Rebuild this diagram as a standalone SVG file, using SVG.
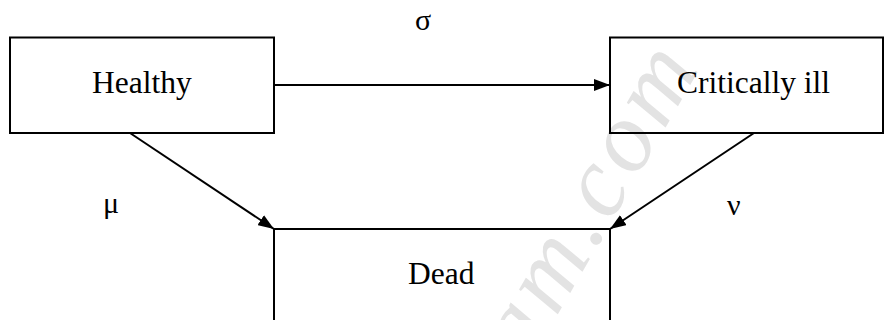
<svg xmlns="http://www.w3.org/2000/svg" width="885" height="320" viewBox="0 0 885 320">
  <style>
    .box { fill: none; stroke: #000000; stroke-width: 2; }
    .label { font-family: "Liberation Serif", "Times New Roman", serif; font-size: 31.5px; fill: #000000; }
    .rate { font-family: "Liberation Serif", "Times New Roman", serif; font-size: 30px; fill: #000000; }
    .edge { stroke: #000000; stroke-width: 2; fill: none; marker-end: url(#arrow); }
    .mark { font-family: "Liberation Serif", "Times New Roman", serif; font-style: italic; font-size: 100px; letter-spacing: 6px; fill: #e3e3e3; }
  </style>
  <defs>
    <marker id="arrow" viewBox="0 0 16 12" refX="16" refY="6" markerWidth="16" markerHeight="12" markerUnits="userSpaceOnUse" orient="auto">
      <path d="M0,0 L16,6 L0,12 Z" fill="#000000"/>
    </marker>
  </defs>

  <rect width="885" height="320" fill="#ffffff"/>

  <!-- faint diagonal watermark lettering, behind the outlines -->
  <g id="watermark">
    <text class="mark" transform="translate(528,366) rotate(-60)">am.com</text>
  </g>

  <g id="connectors">
    <line class="edge" x1="275" y1="85" x2="610" y2="85"/>
    <line class="edge" x1="130" y1="133" x2="274" y2="229"/>
    <line class="edge" x1="754" y1="133" x2="610" y2="229"/>
  </g>

  <g id="healthy">
    <rect class="box" x="10" y="37.5" width="264" height="95.5"/>
    <text class="label" x="92" y="93">Healthy</text>
  </g>

  <g id="critically-ill">
    <rect class="box" x="610" y="37.5" width="273" height="95.5"/>
    <text class="label" x="677" y="93">Critically ill</text>
  </g>

  <g id="dead">
    <rect class="box" x="274" y="229" width="336" height="100"/>
    <text class="label" x="408" y="284">Dead</text>
  </g>

  <g id="rates">
    <text class="rate" x="415" y="30">σ</text>
    <text class="rate" x="103" y="213">μ</text>
    <text class="rate" x="727" y="215">ν</text>
  </g>
</svg>
